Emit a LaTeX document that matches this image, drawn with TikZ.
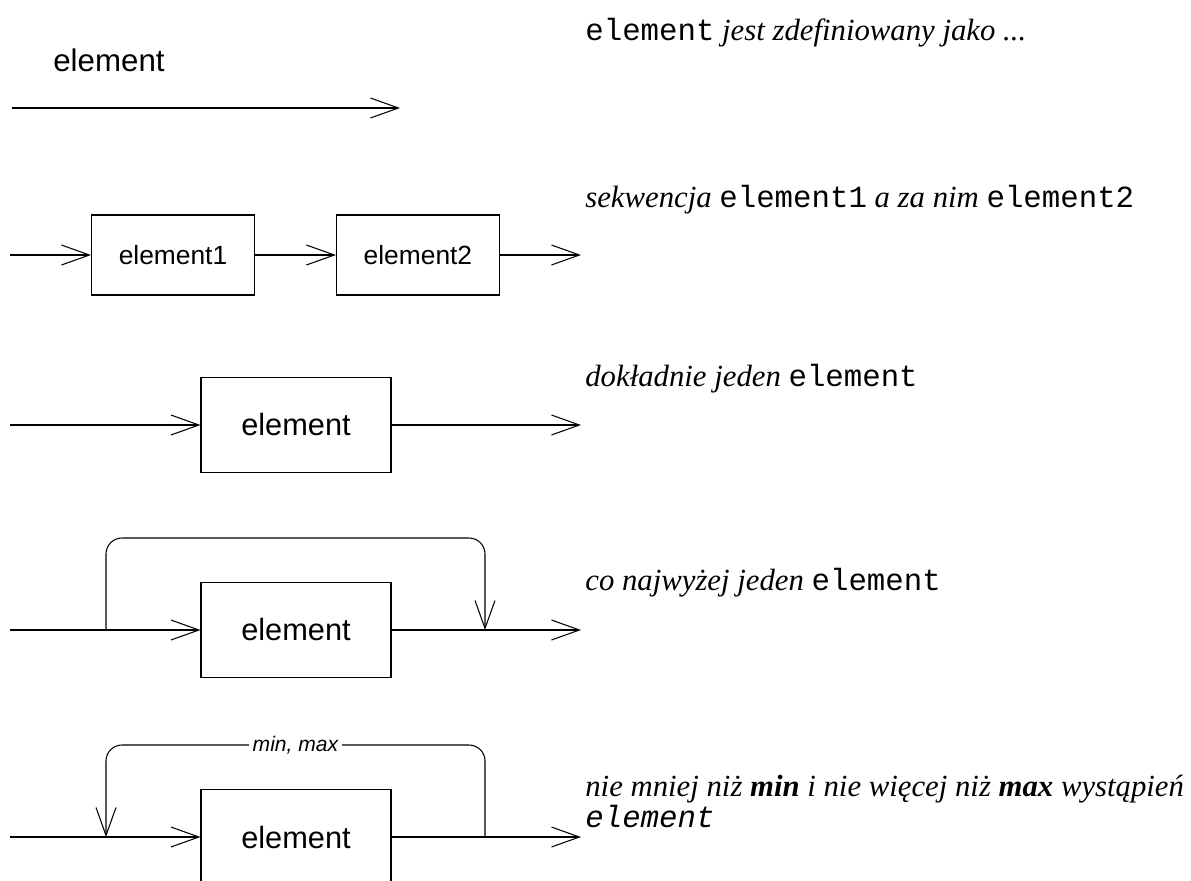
\documentclass[tikz,border=0pt]{standalone}
\usepackage{fontspec}
\setmainfont{Liberation Serif}
\setsansfont{Liberation Sans}
\setmonofont{Liberation Mono}
\usetikzlibrary{shapes,arrows.meta,positioning}

\begin{document}
\begin{tikzpicture}[x=0.02cm, y=-0.02cm,
  line/.style={draw, line width=0.6pt, -{Straight Barb[length=0.56cm, width=0.4cm]}},
  elem/.style={rectangle, draw=black, line width=0.6pt, minimum width=3.8cm, minimum height=1.9cm, text centered, font=\sffamily\fontsize{17.5}{20}\selectfont},
  elemsmall/.style={elem, minimum width=3.26cm, minimum height=1.6cm, font=\sffamily\fontsize{15}{18}\selectfont},
  desc/.style={anchor=base west, inner sep=0pt, font=\fontsize{17.5}{20}\selectfont}]
\useasboundingbox (0,0) rectangle (1191,880);

% definicja
\node [anchor=base west, inner sep=0pt, font=\sffamily\fontsize{17.8}{20}\selectfont] (name) at (53,71) {element};
\coordinate (s1) at (12,108);
\coordinate (t1) at (400,108);
\path [line] (s1) -- (t1);

% sekwencja
\node [elemsmall] (el1) at (173,255) {element1};
\node [elemsmall, right of = el1, xshift=3.9cm] (el2) {element2};
\coordinate (s2) at (10,255);
\coordinate (t2) at (581,255);
\path [line] (s2) -- (el1);
\path [line] (el1) -- (el2);
\path [line] (el2) -- (t2);

% dokladnie jeden
\node [elem] (one) at (296,425) {element};
\coordinate (s3) at (10,425);
\coordinate (t3) at (581,425);
\path [line] (s3) -- (one);
\path [line] (one) -- (t3);

% co najwyzej jeden
\node [elem] (opt) at (296,630) {element};
\coordinate (s4) at (10,630);
\coordinate (t4) at (581,630);
\coordinate (l4) at (106,630);
\coordinate (r4) at (485,630);
\path [line] (s4) -- (opt);
\path [line] (opt) -- (t4);
\path [line, rounded corners=0.32cm] (l4) -- ++(0,-92) -| (r4);

% min, max
\node [elem] (rep) at (296,837) {element};
\coordinate (s5) at (10,837);
\coordinate (t5) at (581,837);
\coordinate (l5) at (106,837);
\coordinate (r5) at (485,837);
\path [line] (s5) -- (rep);
\path [line] (rep) -- (t5);
\path [line, rounded corners=0.32cm] (r5) -- ++(0,-92) -| node [pos=0.25, fill=white, inner sep=2pt, font=\sffamily\itshape\fontsize{12}{14}\selectfont] (mm) {min, max} (l5);

% opisy
\node [desc] (d1) at (585,40) {\texttt{element} \textit{jest zdefiniowany jako ...}};
\node [desc] (d2) at (585,207) {\textit{sekwencja} \texttt{element1} \textit{a za nim} \texttt{element2}};
\node [desc] (d3) at (585,386) {\textit{dokładnie jeden} \texttt{element}};
\node [desc] (d4) at (585,590) {\textit{co najwyżej jeden} \texttt{element}};
\node [desc] (d5) at (585,796) {\textit{nie mniej niż \textbf{min} i nie więcej niż \textbf{max} wystąpień}};
\node [desc] (d6) at (585,827) {\texttt{\itshape element}};
\end{tikzpicture}
\end{document}
